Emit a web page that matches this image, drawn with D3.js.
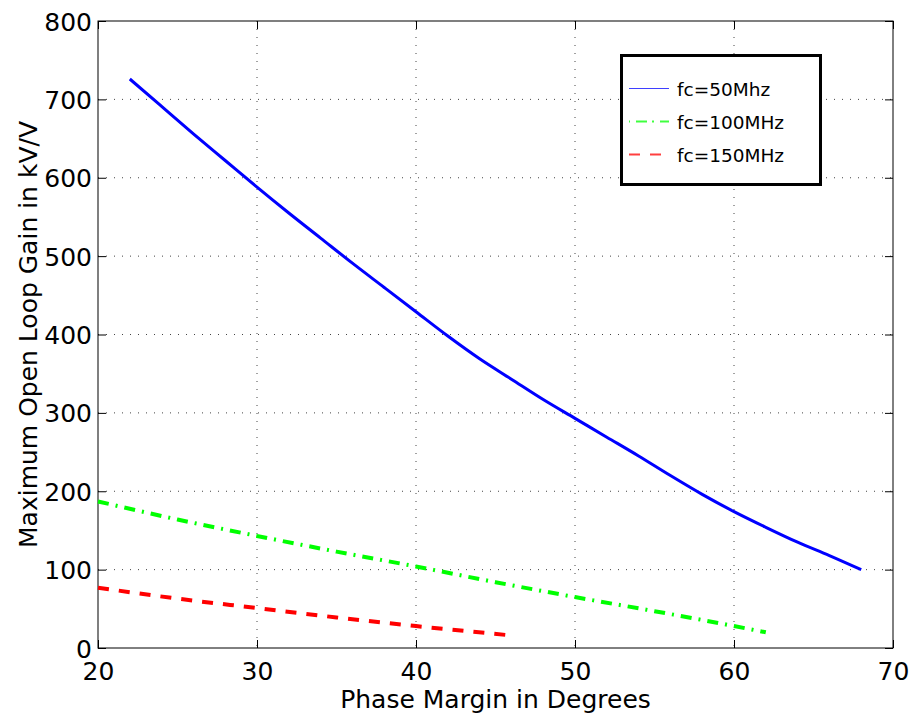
<!DOCTYPE html>
<html>
<head>
<meta charset="utf-8">
<script src="https://cdn.jsdelivr.net/npm/d3@7"></script>
<style>
body { margin: 0; background: #fff; }
text { font-family: "DejaVu Sans", sans-serif; fill: #000; }
</style>
</head>
<body>
<div id="chart"></div>
<script>
// values
var xTicks = [20, 30, 40, 50, 60, 70];
var yTicks = [0, 100, 200, 300, 400, 500, 600, 700, 800];

var pm50 = [22, 24, 26, 28, 30, 32, 34, 36, 38, 40, 42, 44, 46, 48, 50, 52, 54, 56, 58, 60, 62, 64, 66, 68];
var gain50 = [726, 691, 656, 622, 588, 555, 523, 491, 460, 429, 398, 369, 343, 317, 293, 269, 245, 220, 196, 174, 154, 135, 118, 100];

var pm100 = [20, 25, 30, 35, 40, 45, 50, 55, 60, 62];
var gain100 = [187, 164, 143, 123, 104, 84, 65, 47, 28, 20];

var pm150 = [20, 25, 30, 35, 40, 46];
var gain150 = [77, 63, 51, 39, 28, 16];

var labels = ["fc=50Mhz", "fc=100MHz", "fc=150MHz"];
var colors = ["#0000ff", "#00ff00", "#ff0000"];

var width = 913, height = 716;
// (window.top is taken, so plot edges get their own names)
var pLeft = 98, pRight = 893, pTop = 21, pBottom = 648;

var svg = d3.select("#chart").append("svg")
	.attr("width", width)
	.attr("height", height);

var x = d3.scaleLinear().domain([20, 70]).range([pLeft, pRight]);
var y = d3.scaleLinear().domain([0, 800]).range([pBottom, pTop]);

//dotted grid
svg.append("g").selectAll("line").data(xTicks.slice(1, -1)).enter().append("line")
	.attr("x1", function(d){ return x(d); })
	.attr("x2", function(d){ return x(d); })
	.attr("y1", pTop).attr("y2", pBottom)
	.attr("stroke", "#444").attr("stroke-dasharray", "1,7");
svg.append("g").selectAll("line").data(yTicks.slice(1, -1)).enter().append("line")
	.attr("y1", function(d){ return y(d); })
	.attr("y2", function(d){ return y(d); })
	.attr("x1", pLeft).attr("x2", pRight)
	.attr("stroke", "#444").attr("stroke-dasharray", "1,7");

//axes, ticks point inward on all four sides
var tickLen = 8;
var axB = svg.append("g").attr("transform", "translate(0," + pBottom + ")")
	.call(d3.axisBottom(x).tickValues(xTicks).tickSizeInner(-tickLen).tickSizeOuter(0).tickPadding(14));
var axT = svg.append("g").attr("transform", "translate(0," + pTop + ")")
	.call(d3.axisTop(x).tickValues(xTicks).tickSizeInner(-tickLen).tickSizeOuter(0).tickFormat(""));
var axL = svg.append("g").attr("transform", "translate(" + pLeft + ",0)")
	.call(d3.axisLeft(y).tickValues(yTicks).tickSizeInner(-tickLen).tickSizeOuter(0).tickPadding(6));
var axR = svg.append("g").attr("transform", "translate(" + pRight + ",0)")
	.call(d3.axisRight(y).tickValues(yTicks).tickSizeInner(-tickLen).tickSizeOuter(0).tickFormat(""));

[axB, axT, axL, axR].forEach(function(a){
	a.select(".domain").remove();
	a.selectAll("line").attr("stroke", "#000");
	a.selectAll("text").attr("font-family", "DejaVu Sans").attr("font-size", 25);
});
axB.selectAll("text").attr("dy", null).attr("y", 32);
axL.selectAll("text").attr("x", -6).attr("dy", "0.36em");

svg.append("rect")
	.attr("x", pLeft).attr("y", pTop)
	.attr("width", pRight - pLeft).attr("height", pBottom - pTop)
	.attr("fill", "none").attr("stroke", "#000").attr("stroke-width", 1);

//curves
var series = [
	{pm: pm50, gain: gain50, w: 3, dash: null},
	{pm: pm100, gain: gain100, w: 4, dash: "11,7,2,7"},
	{pm: pm150, gain: gain150, w: 4, dash: "11,10"}
];
var line = d3.line()
	.x(function(d){ return x(d[0]); })
	.y(function(d){ return y(d[1]); })
	.curve(d3.curveMonotoneX);

series.forEach(function(s, i){
	svg.append("path")
		.datum(d3.zip(s.pm, s.gain))
		.attr("d", line)
		.attr("fill", "none")
		.attr("stroke", colors[i])
		.attr("stroke-width", s.w)
		.attr("stroke-dasharray", s.dash);
});

//axis titles
svg.append("text")
	.attr("x", (pLeft + pRight) / 2).attr("y", 708)
	.attr("text-anchor", "middle")
	.attr("font-size", 25)
	.text("Phase Margin in Degrees");
svg.append("text")
	.attr("transform", "translate(37," + ((pTop + pBottom) / 2) + ") rotate(-90)")
	.attr("text-anchor", "middle")
	.attr("font-size", 25)
	.text("Maximum Open Loop Gain in kV/V");

//legend
var legend = svg.append("g");
legend.append("rect")
	.attr("x", 621.5).attr("y", 55.5)
	.attr("width", 199).attr("height", 129)
	.attr("fill", "#fff").attr("stroke", "#000").attr("stroke-width", 3);
labels.forEach(function(l, i){
	var ly = 88.5 + i * 33;
	legend.append("line")
		.attr("x1", 629).attr("x2", 669)
		.attr("y1", ly).attr("y2", ly)
		.attr("stroke", colors[i])
		.attr("stroke-width", i == 0 ? 1.2 : 2)
		.attr("stroke-dasharray", i == 1 ? "1,6,11,5,2,6,15" : (i == 2 ? "11,10" : null))
		.attr("opacity", 0.75);
	legend.append("text")
		.attr("x", 677).attr("y", ly + 7)
		.attr("font-size", 18.5)
		.text(l);
});
</script>
</body>
</html>
